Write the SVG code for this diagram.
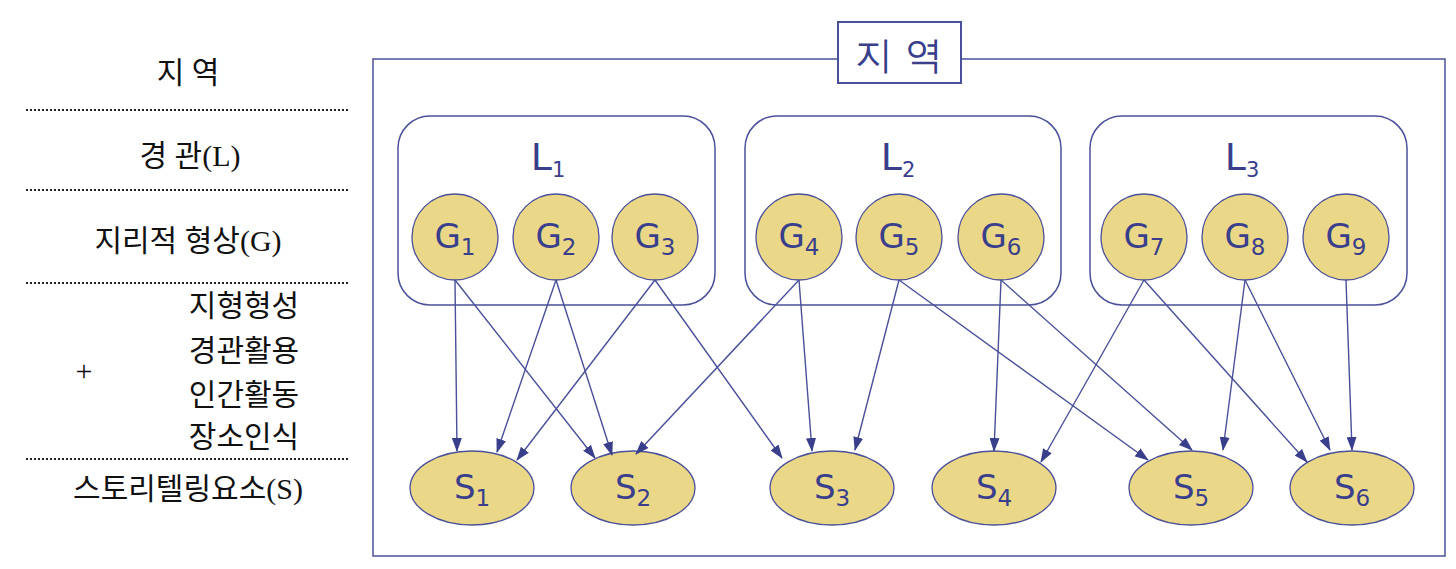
<svg xmlns="http://www.w3.org/2000/svg" width="1456" height="569" viewBox="0 0 1456 569">
<style>
.box{fill:none;stroke:#4a5099;stroke-width:1.5}
.g{fill:#ead787;stroke:#4a5099;stroke-width:1.3}
.nt{font-family:"DejaVu Sans",sans-serif;font-size:34px;fill:#3a3f8c;text-anchor:middle}
.sub{font-size:23px}
.lt{font-family:"DejaVu Sans",sans-serif;font-size:38px;fill:#3a3f8c;text-anchor:middle}
.lab{font-family:"Liberation Serif","Noto Sans CJK KR",serif;font-size:30px;fill:#111;text-anchor:middle}
.dot{stroke:#222;stroke-width:2;stroke-dasharray:2 2}
.e{stroke:#4a5099;stroke-width:1.4;fill:none;marker-end:url(#a)}
</style>
<defs><marker id="a" markerWidth="14" markerHeight="10" refX="13" refY="5" orient="auto" markerUnits="userSpaceOnUse"><path d="M0,0 L14,5 L0,10 Z" fill="#3a3f8c"/></marker></defs>
<rect width="1456" height="569" fill="#fff"/>
<g id="legend">
<text class="lab" x="188" y="83">지 역</text>
<line class="dot" x1="26" y1="110" x2="348" y2="110"/>
<text class="lab" x="190" y="166">경 관(L)</text>
<line class="dot" x1="26" y1="190" x2="348" y2="190"/>
<text class="lab" x="188" y="251">지리적 형상(G)</text>
<line class="dot" x1="26" y1="283" x2="348" y2="283"/>
<text class="lab" x="244" y="316">지형형성</text>
<text class="lab" x="244" y="361">경관활용</text>
<text class="lab" x="244" y="405">인간활동</text>
<text class="lab" x="244" y="447">장소인식</text>
<text class="lab" x="84" y="381">+</text>
<line class="dot" x1="26" y1="459" x2="348" y2="459"/>
<text class="lab" x="188" y="499">스토리텔링요소(S)</text>
</g>
<g id="region"><rect class="box" x="373" y="59" width="1072" height="497"/>
<rect x="838" y="22" width="123" height="61" fill="#fff" stroke="#4a5099" stroke-width="2"/>
<text class="lt" x="899" y="68">지 역</text></g>
<g id="L1"><rect class="box" x="398" y="116" width="317" height="189" rx="32"/><text class="lt" x="548" y="170">L<tspan font-size="21" dy="7">1</tspan></text></g>
<g id="L2"><rect class="box" x="745" y="116" width="316" height="189" rx="32"/><text class="lt" x="898" y="170">L<tspan font-size="21" dy="7">2</tspan></text></g>
<g id="L3"><rect class="box" x="1090" y="116" width="317" height="189" rx="32"/><text class="lt" x="1242" y="170">L<tspan font-size="21" dy="7">3</tspan></text></g>
<g id="G1"><circle class="g" cx="455" cy="237" r="43"/><text class="nt" x="455" y="248">G<tspan class="sub" dy="7">1</tspan></text></g>
<g id="G2"><circle class="g" cx="556" cy="237" r="43"/><text class="nt" x="556" y="248">G<tspan class="sub" dy="7">2</tspan></text></g>
<g id="G3"><circle class="g" cx="655" cy="237" r="43"/><text class="nt" x="655" y="248">G<tspan class="sub" dy="7">3</tspan></text></g>
<g id="G4"><circle class="g" cx="799" cy="237" r="43"/><text class="nt" x="799" y="248">G<tspan class="sub" dy="7">4</tspan></text></g>
<g id="G5"><circle class="g" cx="899" cy="237" r="43"/><text class="nt" x="899" y="248">G<tspan class="sub" dy="7">5</tspan></text></g>
<g id="G6"><circle class="g" cx="1001" cy="237" r="43"/><text class="nt" x="1001" y="248">G<tspan class="sub" dy="7">6</tspan></text></g>
<g id="G7"><circle class="g" cx="1144" cy="237" r="43"/><text class="nt" x="1144" y="248">G<tspan class="sub" dy="7">7</tspan></text></g>
<g id="G8"><circle class="g" cx="1245" cy="237" r="43"/><text class="nt" x="1245" y="248">G<tspan class="sub" dy="7">8</tspan></text></g>
<g id="G9"><circle class="g" cx="1346" cy="237" r="43"/><text class="nt" x="1346" y="248">G<tspan class="sub" dy="7">9</tspan></text></g>
<g id="S1"><ellipse class="g" cx="472" cy="488" rx="62" ry="37"/><text class="nt" x="472" y="499">S<tspan class="sub" dy="7">1</tspan></text></g>
<g id="S2"><ellipse class="g" cx="633" cy="488" rx="62" ry="37"/><text class="nt" x="633" y="499">S<tspan class="sub" dy="7">2</tspan></text></g>
<g id="S3"><ellipse class="g" cx="832" cy="488" rx="62" ry="37"/><text class="nt" x="832" y="499">S<tspan class="sub" dy="7">3</tspan></text></g>
<g id="S4"><ellipse class="g" cx="994" cy="488" rx="62" ry="37"/><text class="nt" x="994" y="499">S<tspan class="sub" dy="7">4</tspan></text></g>
<g id="S5"><ellipse class="g" cx="1191" cy="488" rx="62" ry="37"/><text class="nt" x="1191" y="499">S<tspan class="sub" dy="7">5</tspan></text></g>
<g id="S6"><ellipse class="g" cx="1352" cy="488" rx="62" ry="37"/><text class="nt" x="1352" y="499">S<tspan class="sub" dy="7">6</tspan></text></g>
<g id="edges">
<line class="e" x1="455" y1="280" x2="457" y2="451"/>
<line class="e" x1="455" y1="280" x2="595" y2="458"/>
<line class="e" x1="556" y1="280" x2="497" y2="452"/>
<line class="e" x1="556" y1="280" x2="612" y2="455"/>
<line class="e" x1="655" y1="280" x2="517" y2="460"/>
<line class="e" x1="655" y1="280" x2="782" y2="458"/>
<line class="e" x1="799" y1="280" x2="636" y2="454"/>
<line class="e" x1="799" y1="280" x2="812" y2="451"/>
<line class="e" x1="899" y1="280" x2="855" y2="450"/>
<line class="e" x1="899" y1="280" x2="1148" y2="460"/>
<line class="e" x1="1001" y1="280" x2="994" y2="451"/>
<line class="e" x1="1001" y1="280" x2="1192" y2="450"/>
<line class="e" x1="1144" y1="280" x2="1041" y2="462"/>
<line class="e" x1="1144" y1="280" x2="1307" y2="462"/>
<line class="e" x1="1245" y1="280" x2="1223" y2="450"/>
<line class="e" x1="1245" y1="280" x2="1330" y2="450"/>
<line class="e" x1="1346" y1="280" x2="1352" y2="450"/>
</g>
</svg>
